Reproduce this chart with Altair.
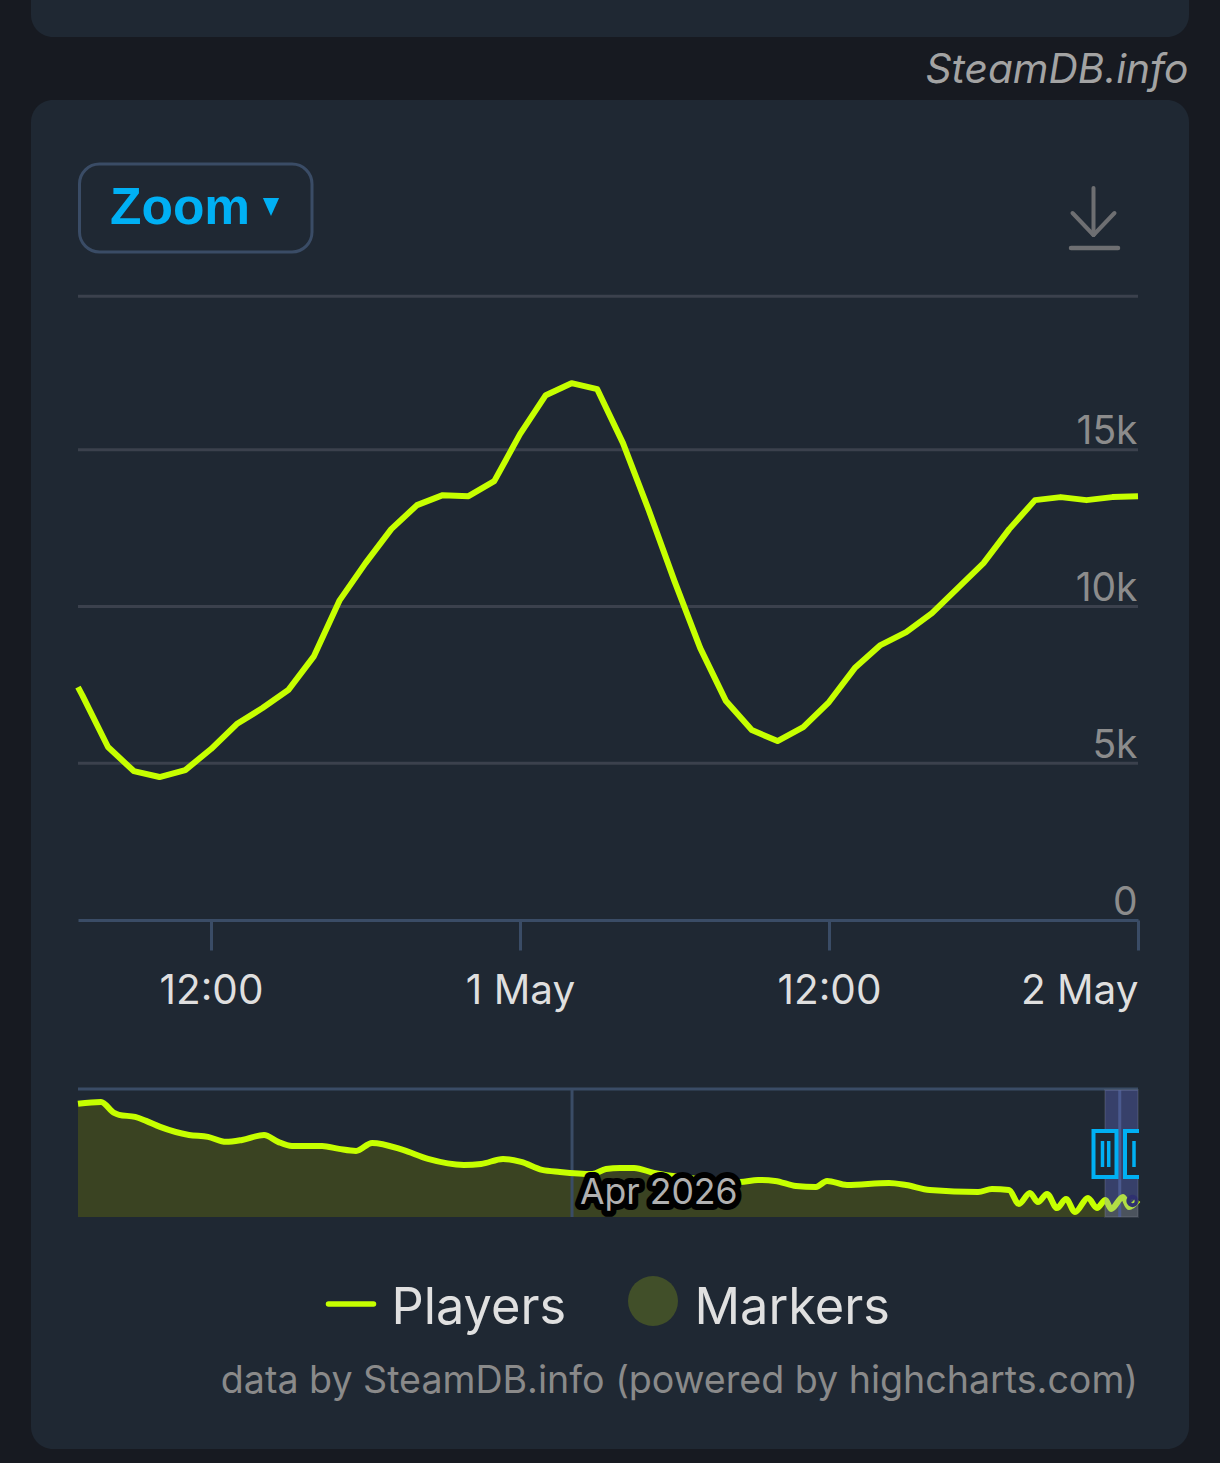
import altair as alt
import pandas as pd

# ---- main chart data ----
hours_before_end = [41.165] + list(range(41, -1, -1))
players = [7430, 7175, 5517, 4751, 4560, 4783, 5453, 6250, 6760, 7334, 8418, 10204, 11384,
           12468, 13234, 13552, 13520, 13999, 15498, 16741, 17124, 16932, 15211, 13074, 10810,
           8674, 6983, 6059, 5708, 6154, 6952, 8036, 8769, 9184, 9790, 10587, 11384, 12468,
           13393, 13489, 13393, 13489, 13520]
y_ticks = [0, 5000, 10000, 15000]
grid_values = [5000, 10000, 15000, 19900]

# ---- navigator data ----
nav_days = [-27.06, -25.8, -25.08, -24.81, -23.93, -23.33, -22.56, -20.98, -19.94, -18.95, -18.07,
            -16.87, -16.1, -15.34, -13.69, -12.76, -11.83, -10.95, -9.26, -7.89, -5.92, -4.98,
            -3.78, -2.79, -1.64, -0.66, 1.1, 1.86, 2.63, 3.4, 4.49, 6.46, 9.2, 10.19, 11.12, 12.27,
            13.36, 13.97, 15.06, 17.36, 18.29, 19.6, 22.24, 23.0, 23.93, 24.48, 25.08, 25.52, 26.02,
            26.56, 27.06, 27.55, 28.26, 28.75, 29.22, 29.52, 30.18, 30.51, 31.0]
nav_players = [88400, 89900, 81300, 79800, 78200, 75100, 70400, 64100, 62600, 58700, 60200, 64100,
               58700, 55500, 55500, 53200, 51600, 57900, 52400, 45400, 40700, 41400, 45400, 43000,
               36800, 35200, 33600, 37500, 38300, 38300, 34400, 30500, 27400, 28900, 28200, 24200,
               23500, 28200, 25000, 26600, 25000, 21100, 19500, 21900, 21100, 10200, 18800, 11700,
               18000, 7000, 14100, 3900, 14900, 7000, 13300, 6300, 15600, 7800, 13300]
marker_days = [30.7]
marker_players = [12500]

END = pd.Timestamp("2026-05-02T00:00:00Z")
APR1 = pd.Timestamp("2026-04-01T00:00:00Z")
ms = lambda t: int(t.value // 10**6)

main_df = pd.DataFrame({"t": [ms(END - pd.Timedelta(hours=h)) for h in hours_before_end], "players": players})
nav_df = pd.DataFrame({"t": [ms(APR1 + pd.Timedelta(days=d)) for d in nav_days], "players": nav_players})
marker_df = pd.DataFrame({"t": [ms(APR1 + pd.Timedelta(days=d)) for d in marker_days], "players": marker_players})
x_ticks = [ms(pd.Timestamp(s)) for s in
           ["2026-04-30T12:00:00Z", "2026-05-01T00:00:00Z", "2026-05-01T12:00:00Z", "2026-05-02T00:00:00Z"]]
grid_df = pd.DataFrame({"v": grid_values})
nav_grid_df = pd.DataFrame({"t": [ms(APR1), ms(pd.Timestamp("2026-05-01T00:00:00Z"))]})

# ---- colours / fonts ----
BG, PANEL = "#171a21", "#1f2833"
LIME, AREA = "#c6ff00", "#3a4322"
GRID, AXIS = "#3b414d", "#3a4c66"
BLUE = "#00b0f4"
ICON = "#6e6f72"
FONT = "Inter"

one = alt.Data(values=[{"a": 1}])
main_x = alt.Scale(type="utc", domain=[ms(END - pd.Timedelta(hours=41.165)), ms(END)], range=[78, 1138])
main_y = alt.Scale(domain=[0, 20000], range=[920, 293], nice=False, zero=False)
nav_x = alt.Scale(type="utc", domain=[ms(APR1 + pd.Timedelta(days=-27.06)), ms(END)], range=[78, 1138])
nav_y = alt.Scale(domain=[0, 100000], range=[1217, 1089], nice=False)


def box(x, x2, y, y2, **kw):
    return alt.Chart(one).mark_rect(**kw).encode(
        x=alt.value(x), x2=alt.value(x2), y=alt.value(y), y2=alt.value(y2))


def seg(x, x2, y, y2, color, w, cap="butt"):
    return alt.Chart(one).mark_rule(color=color, strokeWidth=w, strokeCap=cap).encode(
        x=alt.value(x), x2=alt.value(x2), y=alt.value(y), y2=alt.value(y2))


def label(s, x, y, size, color, align="left", font=FONT, **kw):
    return alt.Chart(alt.Data(values=[{"s": s}])).mark_text(
        align=align, baseline="alphabetic", fontSize=size, font=font, color=color, **kw
    ).encode(x=alt.value(x), y=alt.value(y), text="s:N")


layers = [
    # panels
    box(31, 1189, -40, 37, fill=PANEL, cornerRadius=22),
    box(31, 1189, 100, 1449, fill=PANEL, cornerRadius=22),
    label("SteamDB.info", 1188.5, 83, 40.7, "#a3a3a3", align="right", fontStyle="italic"),
    # zoom button
    box(79.5, 312, 164, 252, fill=PANEL, stroke=AXIS, strokeWidth=3, cornerRadius=20),
    label("Zoom", 110, 224, 51.5, BLUE, font="Liberation Sans", fontWeight="bold"),
    alt.Chart(one).mark_point(shape="M-0.9,-1L0.9,-1L0,1Z", filled=True, fill=BLUE, opacity=1, size=324, strokeWidth=0)
    .encode(x=alt.value(271), y=alt.value(207)),
    # download icon
    seg(1093.5, 1093.5, 188, 235, ICON, 4, cap="round"),
    seg(1072.5, 1093.5, 213, 235, ICON, 4, cap="round"),
    seg(1114.5, 1093.5, 213, 235, ICON, 4, cap="round"),
    seg(1071, 1118, 248, 248, ICON, 4.5, cap="round"),
    # grid lines
    alt.Chart(grid_df).mark_rule(color=GRID, strokeWidth=3).encode(
        y=alt.Y("v:Q", scale=main_y, axis=None), x=alt.value(78), x2=alt.value(1138)),
    # main series with axes
    alt.Chart(main_df).mark_line(color=LIME, strokeWidth=6, strokeJoin="round").encode(
        x=alt.X("t:T", scale=main_x, title=None, axis=alt.Axis(
            values=x_ticks, offset=-543, tickSize=30, tickWidth=3, tickColor=AXIS, zindex=1,
            domainColor=AXIS, domainWidth=3, grid=False, labelFlush=True, labelOverlap=False,
            labelPadding=53, labelBaseline="alphabetic", labelFont=FONT, labelFontSize=40.5,
            labelColor="#dfdfdf",
            labelExpr="utcFormat(datum.value, '%H') == '00' ? utcFormat(datum.value, '%-d %b') : utcFormat(datum.value, '%H:%M')")),
        y=alt.Y("players:Q", scale=main_y, title=None, axis=alt.Axis(
            values=y_ticks, offset=-1138, domain=False, ticks=False, grid=False, labelPadding=1, zindex=1,
            labelBaseline="alphabetic", labelOffset=-6, labelFont=FONT, labelFontSize=39,
            labelColor="#8c8c8c", labelFlush=False, labelOverlap=False,
            labelExpr="datum.value == 0 ? '0' : datum.value / 1000 + 'k'")),
    ),
    # navigator
    alt.Chart(nav_df).mark_area(color=AREA, opacity=1).encode(
        x=alt.X("t:T", scale=nav_x, axis=None), y=alt.Y("players:Q", scale=nav_y, axis=None)),
    alt.Chart(nav_grid_df).mark_rule(color=AXIS, strokeWidth=3).encode(
        x=alt.X("t:T", scale=nav_x, axis=None), y=alt.value(1089), y2=alt.value(1217)),
    seg(78, 1138, 1089, 1089, AXIS, 3),
    alt.Chart(nav_df).mark_line(color=LIME, strokeWidth=6, strokeJoin="round", interpolate="monotone").encode(
        x=alt.X("t:T", scale=nav_x, axis=None), y=alt.Y("players:Q", scale=nav_y, axis=None)),
    alt.Chart(marker_df).mark_point(color="#14143c", filled=False, size=70, strokeWidth=4, opacity=1).encode(
        x=alt.X("t:T", scale=nav_x, axis=None), y=alt.Y("players:Q", scale=nav_y, axis=None)),
    label("Apr 2026", 580, 1204, 35.6, "#000000", stroke="#000000", strokeWidth=12, strokeJoin="round"),
    label("Apr 2026", 580, 1204, 35.6, "#b0b0b0"),
    # selected window
    box(1105, 1138, 1090, 1217, fill="#7a80ff", fillOpacity=0.27, stroke="#9a9aa8", strokeOpacity=0.15, strokeWidth=2),
    box(1093.5, 1116.5, 1131, 1177, fill=PANEL, stroke=BLUE, strokeWidth=4),
    seg(1102.5, 1102.5, 1141, 1167, BLUE, 3.5),
    seg(1108.7, 1108.7, 1141, 1167, BLUE, 3.5),
    box(1124, 1139, 1131, 1177, fill=PANEL),
    seg(1125, 1125, 1129, 1179, BLUE, 4),
    seg(1123, 1139, 1131, 1131, BLUE, 4),
    seg(1123, 1139, 1177, 1177, BLUE, 4),
    seg(1134, 1134, 1141, 1167, BLUE, 3.5),
    # legend
    seg(328.5, 373.5, 1304, 1304, LIME, 5.5, cap="round"),
    label("Players", 391.5, 1324, 50.5, "#e0e0e0"),
    alt.Chart(one).mark_circle(color="#414f29", opacity=1, size=2500).encode(x=alt.value(653), y=alt.value(1301)),
    label("Markers", 694.5, 1324, 50.5, "#e0e0e0"),
    # credits
    label("data by SteamDB.info (powered by highcharts.com)", 1138, 1393, 37.6, "#8a8a8a", align="right"),
]

chart = (
    alt.layer(*layers)
    .resolve_scale(x="independent", y="independent")
    .resolve_axis(x="independent", y="independent")
    .properties(
        width=1220, height=1463, padding=0,
        autosize=alt.AutoSizeParams(type="none"), background=BG,
    )
    .configure_view(stroke=None)
)

chart.save("out.html", embed_options={"renderer": "svg", "actions": False,
                                      "defaultStyle": "html,body{margin:0;padding:0;background:#171a21;overflow:hidden}"})
